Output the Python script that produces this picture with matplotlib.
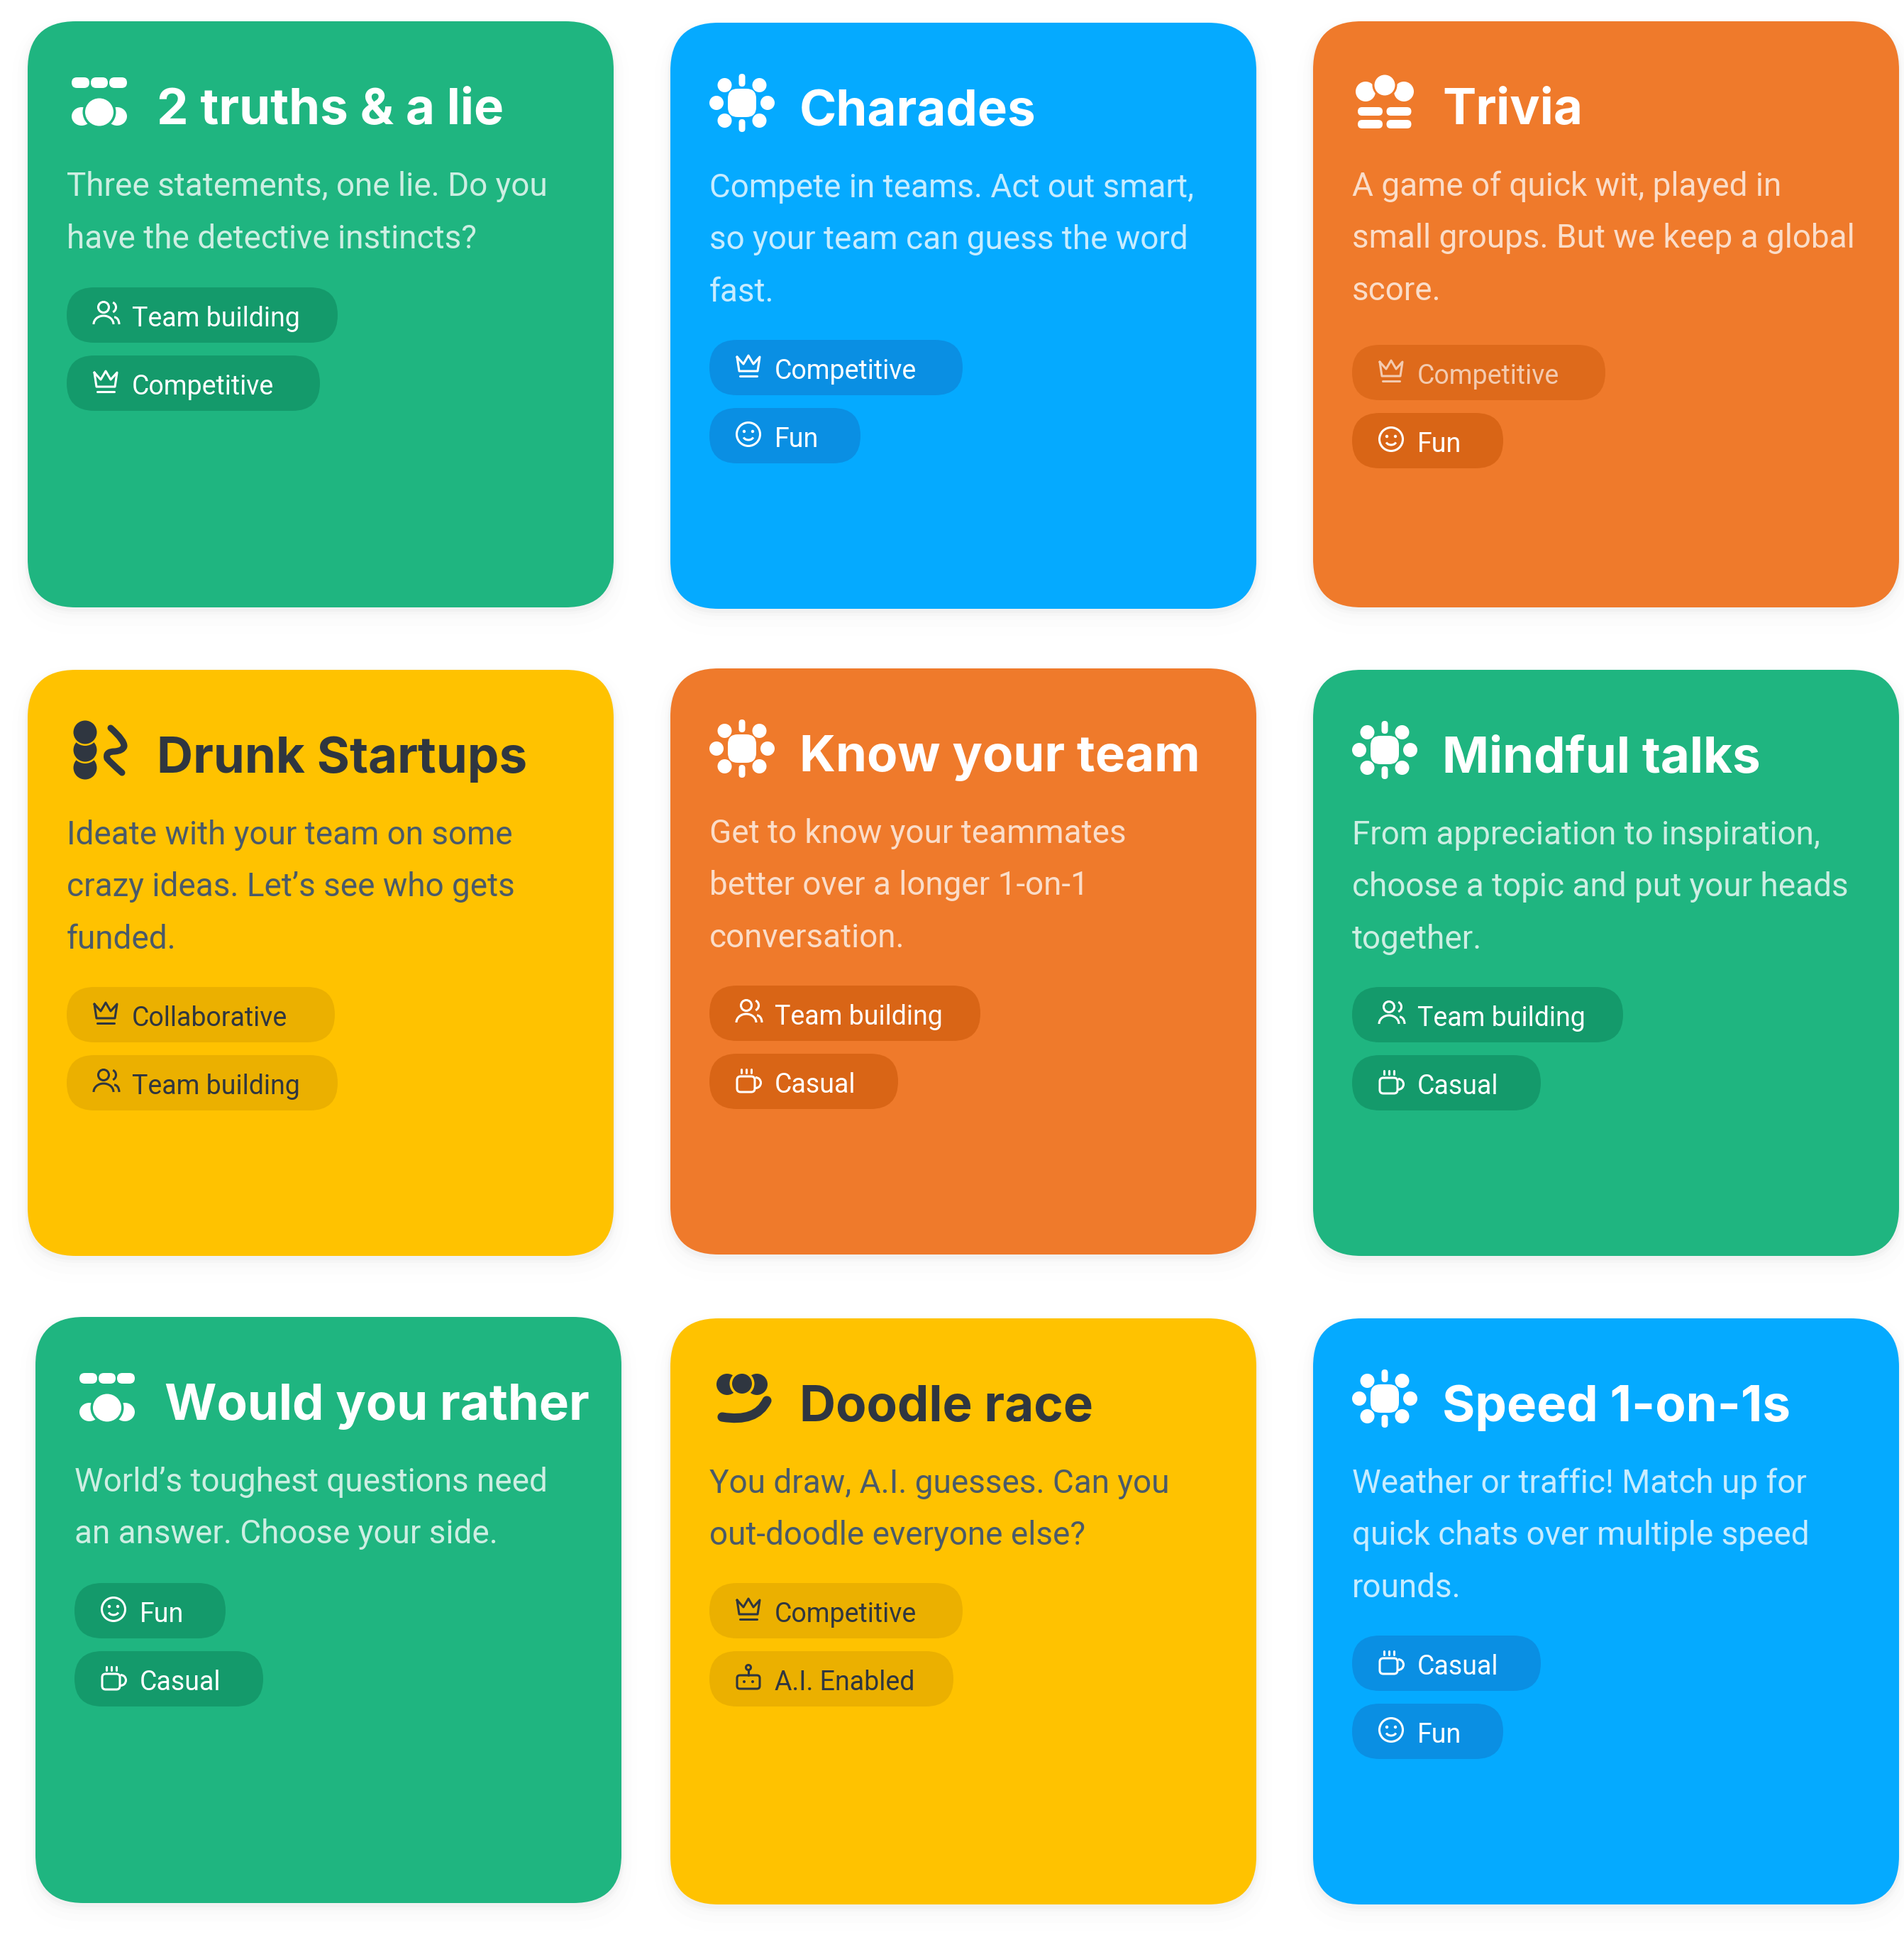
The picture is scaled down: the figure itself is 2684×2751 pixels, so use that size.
import matplotlib
matplotlib.use("Agg")
import matplotlib.pyplot as plt
from matplotlib.patches import FancyBboxPatch, Circle, Ellipse, Arc, PathPatch
from matplotlib.path import Path

FONT = "Inter"
BODY_FONT = "Roboto"
W, H = 2684, 2751
CARD = 826

titles = ["2 truths & a lie", "Charades", "Trivia", "Drunk Startups", "Know your team",
          "Mindful talks", "Would you rather", "Doodle race", "Speed 1-on-1s"]
descriptions = [
    ["Three statements, one lie. Do you", "have the detective instincts?"],
    ["Compete in teams. Act out smart,", "so your team can guess the word", "fast."],
    ["A game of quick wit, played in", "small groups. But we keep a global", "score."],
    ["Ideate with your team on some", "crazy ideas. Let\u2019s see who gets", "funded."],
    ["Get to know your teammates", "better over a longer 1-on-1", "conversation."],
    ["From appreciation to inspiration,", "choose a topic and put your heads", "together."],
    ["World\u2019s toughest questions need", "an answer. Choose your side."],
    ["You draw, A.I. guesses. Can you", "out-doodle everyone else?"],
    ["Weather or traffic! Match up for", "quick chats over multiple speed", "rounds."],
]
tags = [
    ["Team building", "Competitive"], ["Competitive", "Fun"], ["Competitive", "Fun"],
    ["Collaborative", "Team building"], ["Team building", "Casual"], ["Team building", "Casual"],
    ["Fun", "Casual"], ["Competitive", "A.I. Enabled"], ["Casual", "Fun"],
]
tag_icons = {"Team building": "people", "Competitive": "crown", "Fun": "smile", "Casual": "cup",
             "Collaborative": "crown", "A.I. Enabled": "robot"}
tag_widths = {"Team building": 382, "Competitive": 357, "Fun": 213, "Casual": 266,
              "Collaborative": 378, "A.I. Enabled": 344}
themes = ["green", "blue", "orange", "yellow", "orange", "green", "green", "yellow", "blue"]
card_icons = ["dots", "sun", "trivia", "drunk", "sun", "sun", "dots", "doodle", "sun"]
card_x = [39, 945, 1851, 39, 945, 1851, 50, 945, 1851]
card_y = [30, 32, 30, 944, 942, 944, 1856, 1858, 1858]
pill_y = [375, 447, 456, 447, 447, 447, 375, 373, 447]

palette = {
    "green":  dict(bg="#1FB580", pill="#149A6B", fg="#FFFFFF", desc="#FFFFFF", a=0.78),
    "blue":   dict(bg="#05AAFF", pill="#0A8FE3", fg="#FFFFFF", desc="#FFFFFF", a=0.78),
    "orange": dict(bg="#EF7A2B", pill="#D96516", fg="#FFFFFF", desc="#FFFFFF", a=0.75),
    "yellow": dict(bg="#FFC200", pill="#EBB000", fg="#2F3640", desc="#4A5A6A", a=1.0),
}

TITLE_PT, DESC_PT, TAG_PT = 51, 33, 27

fig = plt.figure(figsize=(W / 100, H / 100), dpi=100, facecolor="white")
ax = fig.add_axes([0, 0, 1, 1])
ax.set_xlim(0, W)
ax.set_ylim(H, 0)
ax.axis("off")


def rrect(x, y, w, h, r, z=1, **kw):
    p = FancyBboxPatch((x, y), w, h, boxstyle=f"round,pad=0,rounding_size={r}",
                       linewidth=0, zorder=z, **kw)
    ax.add_patch(p)
    return p


def circ(cx, cy, r, color, z=4):
    ax.add_patch(Circle((cx, cy), r, facecolor=color, edgecolor="none", zorder=z))


def curve(pts, color, lw, z=4):
    codes = [Path.MOVETO] + [Path.CURVE3] * (len(pts) - 1)
    ax.add_patch(PathPatch(Path(pts, codes), facecolor="none", edgecolor=color, lw=lw,
                           capstyle="round", joinstyle="round", zorder=z))


def line(pts, color, lw, a=1.0, z=6):
    ax.plot([p[0] for p in pts], [p[1] for p in pts], color=color, lw=lw, alpha=a,
            solid_capstyle="round", solid_joinstyle="round", zorder=z)


def draw_card_icon(kind, cx, cy, fg, bg):
    if kind == "dots":
        rrect(cx - 39, cy - 34, 25, 15, 7.5, 4, facecolor=fg)
        rrect(cx - 12, cy - 34, 24, 15, 7.5, 4, facecolor=fg)
        rrect(cx + 14, cy - 34, 25, 15, 7.5, 4, facecolor=fg)
        ax.add_patch(Ellipse((cx - 25, cy + 21), 28, 26, facecolor=fg, edgecolor="none", zorder=4))
        ax.add_patch(Ellipse((cx + 25, cy + 21), 28, 26, facecolor=fg, edgecolor="none", zorder=4))
        ax.add_patch(Ellipse((cx, cy + 15), 47, 46, facecolor=bg, edgecolor="none", zorder=4.1))
        ax.add_patch(Ellipse((cx, cy + 15), 40, 39, facecolor=fg, edgecolor="none", zorder=4.2))
    elif kind == "sun":
        rrect(cx - 20, cy - 20, 40, 40, 14, 4, facecolor=fg)
        for dx, dy in [(-36, 0), (36, 0), (-24.5, -25), (24.5, -25), (-24.5, 25), (24.5, 25)]:
            circ(cx + dx, cy + dy, 10, fg)
        rrect(cx - 4.5, cy - 41, 9, 18, 4.5, 4, facecolor=fg)
        rrect(cx - 4.5, cy + 23, 9, 18, 4.5, 4, facecolor=fg)
    elif kind == "trivia":
        circ(cx - 27, cy - 14, 14, fg)
        circ(cx + 27, cy - 14, 14, fg)
        circ(cx, cy - 23, 17.5, bg, 4.1)
        circ(cx, cy - 23, 14.5, fg, 4.2)
        for x0 in (-38, 2.5):
            for y0 in (8, 26):
                rrect(cx + x0, cy + y0, 35, 12, 6, 4, facecolor=fg)
    elif kind == "drunk":
        circ(cx - 20, cy + 25, 16.5, fg, 4)
        circ(cx - 20, cy, 19, bg, 4.1)
        circ(cx - 20, cy, 16.5, fg, 4.2)
        circ(cx - 20, cy - 25, 19, bg, 4.3)
        circ(cx - 20, cy - 25, 16.5, fg, 4.4)
        curve([(cx + 16, cy - 31), (cx + 36, cy - 13), (cx + 35, cy - 5), (cx + 33, cy + 1),
               (cx + 22, cy + 2), (cx + 8, cy + 2), (cx + 11, cy + 12), (cx + 16, cy + 18),
               (cx + 32, cy + 32)], fg, 6.5)
    elif kind == "doodle":
        circ(cx - 21, cy - 20, 15, fg, 4)
        circ(cx + 21, cy - 20, 15, fg, 4)
        circ(cx, cy - 21, 17.5, bg, 4.1)
        circ(cx, cy - 21, 14, fg, 4.2)
        curve([(cx - 28, cy + 26), (cx + 20, cy + 34), (cx + 35, cy + 3)], fg, 9.5)


def draw_tag_icon(kind, cx, cy, c, a=1.0):
    lw = 2.2
    kw = dict(facecolor="none", edgecolor=c, linewidth=lw, zorder=6, alpha=a)
    akw = dict(edgecolor=c, lw=lw, zorder=6, alpha=a)
    if kind == "people":
        ax.add_patch(Circle((cx - 3, cy - 9), 7.5, **kw))
        ax.add_patch(Arc((cx - 3, cy + 15), 28, 24, theta1=180, theta2=360, **akw))
        ax.add_patch(Arc((cx + 7, cy - 9), 15, 15, theta1=-65, theta2=65, **akw))
        ax.add_patch(Arc((cx + 12, cy + 15), 14, 20, theta1=270, theta2=360, **akw))
    elif kind == "crown":
        line([(cx - 16, cy - 13), (cx - 13, cy + 7), (cx + 13, cy + 7), (cx + 16, cy - 13),
              (cx + 7, cy - 3), (cx, cy - 15), (cx - 7, cy - 3), (cx - 16, cy - 13)], c, lw, a)
        line([(cx - 12, cy + 14), (cx + 12, cy + 14)], c, lw, a)
    elif kind == "smile":
        ax.add_patch(Circle((cx, cy), 16.5, **kw))
        circ(cx - 6, cy - 4, 2.2, c, 6)
        circ(cx + 6, cy - 4, 2.2, c, 6)
        ax.add_patch(Arc((cx, cy + 2), 15, 12, theta1=20, theta2=160, **akw))
    elif kind == "cup":
        rrect(cx - 16, cy - 5, 25, 22, 5, 6, facecolor="none", edgecolor=c).set_linewidth(lw)
        ax.add_patch(Arc((cx + 10, cy + 4), 15, 15, theta1=-90, theta2=90, **akw))
        for dx in (-10, -3, 4):
            line([(cx + dx, cy - 15), (cx + dx, cy - 10)], c, lw, a)
    elif kind == "robot":
        rrect(cx - 16, cy - 3, 32, 19, 4, 6, facecolor="none", edgecolor=c).set_linewidth(lw)
        ax.add_patch(Circle((cx, cy - 14), 3.5, **kw))
        line([(cx, cy - 10), (cx, cy - 3)], c, lw, a)
        circ(cx - 6, cy + 6, 2, c, 6)
        circ(cx + 6, cy + 6, 2, c, 6)


for i, title in enumerate(titles):
    x0, y0 = card_x[i], card_y[i]
    th = palette[themes[i]]
    # soft drop shadow
    for grow, off, alpha in [(22, 16, 0.004), (14, 12, 0.006), (8, 8, 0.008), (4, 6, 0.014), (2, 4, 0.02)]:
        rrect(x0 - grow, y0 - grow + off, CARD + 2 * grow, CARD + 2 * grow, 68 + grow, 0.5,
              facecolor="black", alpha=alpha)
    rrect(x0, y0, CARD, CARD, 68, 1, facecolor=th["bg"])
    draw_card_icon(card_icons[i], x0 + 101, y0 + 113, th["fg"], th["bg"])
    ax.text(x0 + 182, y0 + 145, title, fontsize=TITLE_PT, fontweight="bold", family=FONT,
            color=th["fg"], va="baseline", ha="left", zorder=5)
    for j, ln in enumerate(descriptions[i]):
        ax.text(x0 + 55, y0 + 246 + 73.5 * j, ln, fontsize=DESC_PT, family=BODY_FONT, color=th["desc"],
                alpha=th["a"], va="baseline", ha="left", zorder=5)
    for j, tag in enumerate(tags[i]):
        py = y0 + pill_y[i] + 96 * j
        faded = title == "Trivia" and j == 0
        rrect(x0 + 55, py, tag_widths[tag], 78, 39, 2, facecolor=th["pill"], alpha=0.75 if faded else 1)
        a = 0.65 if faded else 1.0
        draw_tag_icon(tag_icons[tag], x0 + 55 + 55, py + 37, th["fg"], a)
        ax.text(x0 + 55 + 92, py + 55, tag, fontsize=TAG_PT, family=BODY_FONT, color=th["fg"], alpha=a,
                va="baseline", ha="left", zorder=6)

fig.savefig("out.png", dpi=100, facecolor="white")
